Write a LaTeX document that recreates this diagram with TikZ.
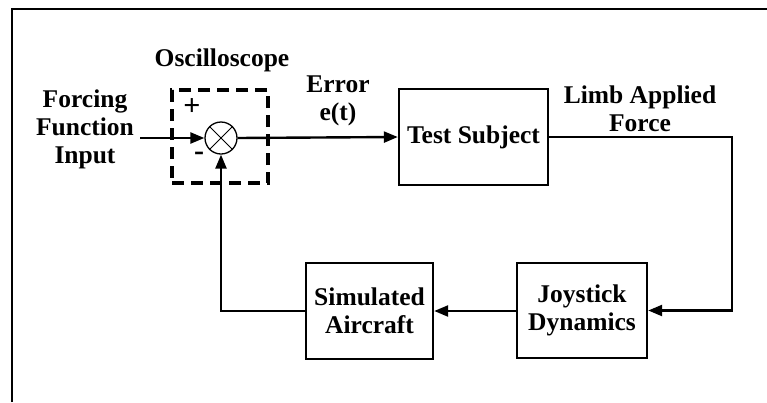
\documentclass[tikz,border=0pt]{standalone}
\usepackage{fontspec}
\setmainfont{Liberation Serif}
\usetikzlibrary{arrows.meta,calc}
\begin{document}
\begin{tikzpicture}[x=1pt,y=-1pt,
  font=\fontsize{25.5}{28}\selectfont\bfseries,
  block/.style={draw,line width=2.4pt,minimum width=#1,minimum height=96pt,align=center,inner sep=0pt},
  lbl/.style={align=center,inner sep=0pt},
  link/.style={line width=2.4pt,-{Triangle[length=14pt,width=11pt]}},
  sign/.style={font=\fontsize{30}{30}\selectfont\bfseries,inner sep=0pt}]
\useasboundingbox (0,0) rectangle (767,402);
% partial frame: top and left edges
\draw[line width=2.6pt] (12,402) -- (12,9) -- (767,9);

% summing junction inside the dashed oscilloscope box
\node[draw,line width=3.2pt,dash pattern=on 12pt off 7pt,minimum width=96pt,minimum height=93pt,inner sep=0pt] (osc) at (220,136.5) {};
\node[draw,circle,line width=1.3pt,minimum size=32pt,inner sep=0pt] (sum) at (221,138) {};
\draw[line width=1pt] (sum.north west) -- (sum.south east) (sum.north east) -- (sum.south west);
\node[sign] (plus) at (192,107) {+};
\node[sign] (minus) at (199,156) {-};
\node[lbl] (osclbl) at (222,60) {Oscilloscope};

% blocks
\node[block=149pt] (subj) at (473.5,137) {Test Subject};
\node[block=130pt,minimum height=95pt] (joy) at (582,310.5) {Joystick\\Dynamics};
\node[block=127pt] (sim) at (369.5,311) {Simulated\\Aircraft};

% labels
\node[lbl] (input) at (85,129) {Forcing\\Function\\Input};
\node[lbl] (err) at (338,101) {Error\\e(t)};
\node[lbl] (force) at (640,109) {Limb Applied\\Force};

% connectors
\coordinate (in) at (140,138);
\coordinate (r1) at (732,137);
\coordinate (r2) at (732,310.5);
\coordinate (l1) at (221,311);
\draw[link] (in) -- (sum.west);
\draw[link] (sum.east) -- (subj.west);
\draw[link] (subj.east) -- (r1) -- (r2) -- (joy.east);
\draw[link] (joy.west |- sim.east) -- (sim.east);
\draw[link] (sim.west) -- (l1) -- (sum.south);
\end{tikzpicture}
\end{document}
